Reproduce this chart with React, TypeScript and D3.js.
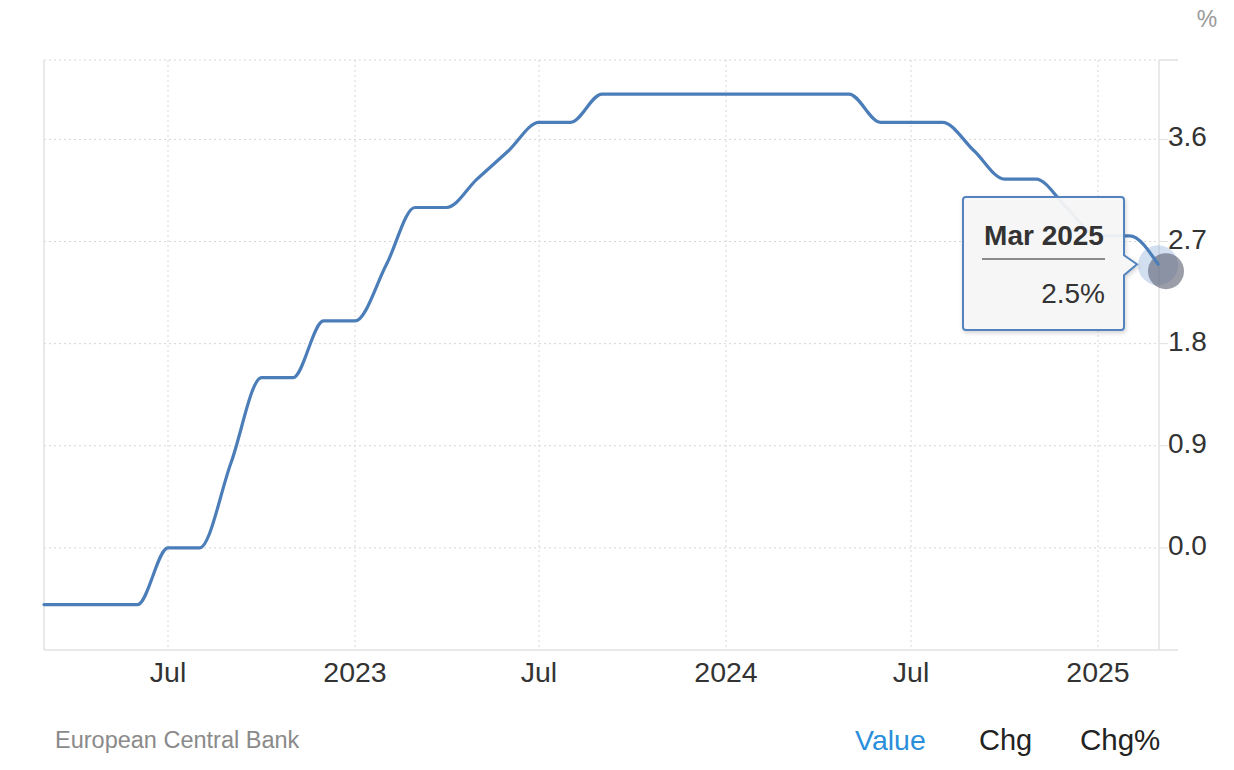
import React from "react";
import * as d3 from "d3";

const months: string[] = [
  "2022-03", "2022-04", "2022-05", "2022-06", "2022-07", "2022-08", "2022-09", "2022-10", "2022-11", "2022-12",
  "2023-01", "2023-02", "2023-03", "2023-04", "2023-05", "2023-06", "2023-07", "2023-08", "2023-09", "2023-10", "2023-11", "2023-12",
  "2024-01", "2024-02", "2024-03", "2024-04", "2024-05", "2024-06", "2024-07", "2024-08", "2024-09", "2024-10", "2024-11", "2024-12",
  "2025-01", "2025-02", "2025-03",
];
const rates: number[] = [
  -0.5, -0.5, -0.5, -0.5, 0, 0, 0.75, 1.5, 1.5, 2.0,
  2.0, 2.5, 3.0, 3.0, 3.25, 3.5, 3.75, 3.75, 4.0, 4.0, 4.0, 4.0,
  4.0, 4.0, 4.0, 4.0, 4.0, 3.75, 3.75, 3.75, 3.5, 3.25, 3.25, 3.0,
  2.75, 2.75, 2.5,
];
const xTickDates: string[] = ["2022-07", "2023-01", "2023-07", "2024-01", "2024-07", "2025-01"];
const xTickLabels: string[] = ["Jul", "2023", "Jul", "2024", "Jul", "2025"];
const yTicks: number[] = [0, 0.9, 1.8, 2.7, 3.6];
const tabs: string[] = ["Value", "Chg", "Chg%"];

const parse = d3.timeParse("%Y-%m");
const FONT = "'Liberation Sans', Arial, Helvetica, sans-serif";

export default function App() {
  const left = 44, right = 1158, top = 60, bottom = 650;
  const x = d3.scaleTime().domain([parse("2022-03")!, parse("2025-03")!]).range([left, right]);
  const y = d3.scaleLinear().domain([-0.9, 4.3]).range([bottom, top]);
  const data = months.map((m, i) => ({ d: parse(m)!, v: rates[i] }));
  const line = d3.line<{ d: Date; v: number }>().x((p) => x(p.d)).y((p) => y(p.v)).curve(d3.curveMonotoneX);
  const last = data[data.length - 1];
  const lx = x(last.d), ly = y(last.v);
  const axisX = right + 1;

  const tipL = 963, tipR = 1124, tipT = 197, tipB = 330, r = 3;
  const tipPath = `M${tipL + r},${tipT} H${tipR - r} Q${tipR},${tipT} ${tipR},${tipT + r} V${ly - 9} L${tipR + 13},${ly} L${tipR},${ly + 11} V${tipB - r} Q${tipR},${tipB} ${tipR - r},${tipB} H${tipL + r} Q${tipL},${tipB} ${tipL},${tipB - r} V${tipT + r} Q${tipL},${tipT} ${tipL + r},${tipT} Z`;

  return (
    <svg width={1234} height={770} style={{ position: "absolute", left: 0, top: 0, background: "#fff" }} fontFamily={FONT}>
      <defs>
        <filter id="sh" x="-20%" y="-20%" width="140%" height="140%">
          <feDropShadow dx="1" dy="2" stdDeviation="2" floodColor="#000" floodOpacity="0.18" />
        </filter>
      </defs>
      {yTicks.map((t) => (
        <g key={"y" + t}>
          <line x1={left} x2={right} y1={y(t)} y2={y(t)} stroke="#d6d6d6" strokeWidth={1} strokeDasharray="2,3" />
          <line x1={axisX} x2={axisX + 9} y1={y(t)} y2={y(t)} stroke="#e0e0e0" strokeWidth={1} />
          <text x={1168} y={y(t) + 7} fontSize={28} fill="#333">{t.toFixed(1)}</text>
        </g>
      ))}
      <line x1={left} x2={right} y1={top} y2={top} stroke="#d6d6d6" strokeWidth={1} strokeDasharray="2,3" />
      <line x1={axisX} x2={axisX + 19} y1={top} y2={top} stroke="#e0e0e0" strokeWidth={1.5} />
      {xTickDates.map((m, i) => (
        <g key={"x" + m}>
          <line x1={x(parse(m)!)} x2={x(parse(m)!)} y1={top} y2={bottom} stroke="#d6d6d6" strokeWidth={1} strokeDasharray="2,3" />
          <text x={x(parse(m)!)} y={682} fontSize={28.5} fill="#333" textAnchor="middle">{xTickLabels[i]}</text>
        </g>
      ))}
      <line x1={left} x2={left} y1={top} y2={bottom} stroke="#e2e2e2" strokeWidth={1.5} />
      <line x1={axisX} x2={axisX} y1={top} y2={bottom} stroke="#e2e2e2" strokeWidth={1.5} />
      <line x1={left} x2={axisX + 19} y1={bottom} y2={bottom} stroke="#e2e2e2" strokeWidth={1.5} />
      <text x={1207} y={27} fontSize={23} fill="#999" textAnchor="middle">%</text>

      <circle cx={lx} cy={ly + 1} r={20} fill="#8fb0dc" opacity={0.4} />
      <circle cx={lx + 8} cy={ly + 7} r={18} fill="#5d6375" opacity={0.62} />

      <path d={line(data) || ""} fill="none" stroke="#4b7db9" strokeWidth={3.2} strokeLinejoin="round" strokeLinecap="round" />

      <path d={tipPath} fill="#f7f7f7" fillOpacity={0.93} stroke="#5283bf" strokeWidth={2} filter="url(#sh)" />
      <text x={1044} y={245} fontSize={28} fontWeight="bold" fill="#333" textAnchor="middle">Mar 2025</text>
      <line x1={982} x2={1105} y1={259} y2={259} stroke="#666" strokeWidth={1.5} />
      <text x={1105} y={303} fontSize={28} fill="#333" textAnchor="end">{last.v}%</text>

      <text x={55} y={748} fontSize={23.5} fill="#8a8a8a">European Central Bank</text>
      <text x={855} y={750} fontSize={28.5} fill="#2a8fdb">{tabs[0]}</text>
      <text x={979} y={750} fontSize={29} fill="#222">{tabs[1]}</text>
      <text x={1080} y={750} fontSize={29.5} fill="#222">{tabs[2]}</text>
    </svg>
  );
}
